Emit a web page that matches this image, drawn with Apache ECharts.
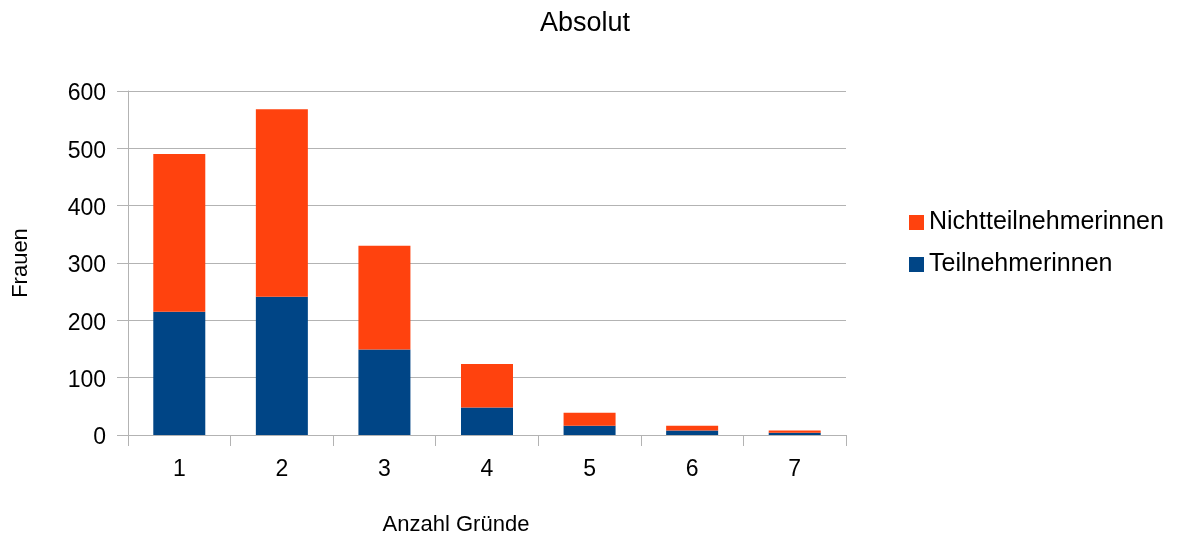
<!DOCTYPE html>
<html>
<head>
<meta charset="utf-8">
<script src="https://cdn.jsdelivr.net/npm/echarts@6/dist/echarts.min.js"></script>
<style>
  html, body { margin: 0; padding: 0; background: #ffffff; }
  #chart { width: 1183px; height: 538px; }
</style>
</head>
<body>
<div id="chart"></div>
<script>
// Number of reasons given (x axis)
const categories = ['1', '2', '3', '4', '5', '6', '7'];
// Women who took part
const teilnehmerinnen = [215, 241, 149, 48, 16, 8, 4];
// Women who did not take part
const nichtteilnehmerinnen = [275, 327, 181, 76, 23, 8, 4];
// Y axis range
const yMin = 0, yMax = 600, yStep = 100;

const FONT = '"Liberation Sans", Arial, sans-serif';
const GRID_GREY = '#b3b3b3';

const chart = echarts.init(document.getElementById('chart'), null, { renderer: 'canvas' });

chart.setOption({
  backgroundColor: '#ffffff',
  animation: false,
  title: {
    text: 'Absolut',
    left: 580,
    textAlign: 'center',
    top: 5,
    textStyle: { fontFamily: FONT, fontSize: 27, fontWeight: 'normal', color: '#000' }
  },
  legend: {
    orient: 'vertical',
    left: 904,
    top: 205,
    itemWidth: 15,
    itemHeight: 15,
    itemGap: 17,
    icon: 'rect',
    data: ['Nichtteilnehmerinnen', 'Teilnehmerinnen'],
    textStyle: { fontFamily: FONT, fontSize: 25, color: '#000' }
  },
  grid: {
    left: 128, right: 337, top: 91, bottom: 103,
    containLabel: false,
    outerBoundsMode: 'none'
  },
  xAxis: {
    type: 'category',
    data: categories,
    name: 'Anzahl Gründe',
    nameLocation: 'middle',
    nameGap: 79,
    nameTextStyle: { fontFamily: FONT, fontSize: 22, color: '#000', padding: [0, 62, 0, 0] },
    axisLine: { lineStyle: { color: GRID_GREY, width: 1 } },
    axisTick: { show: true, length: 11, lineStyle: { color: GRID_GREY } },
    axisLabel: { fontFamily: FONT, fontSize: 23, color: '#000', margin: 23 },
    splitLine: { show: false }
  },
  yAxis: {
    type: 'value',
    min: yMin,
    max: yMax,
    interval: yStep,
    name: 'Frauen',
    nameLocation: 'middle',
    nameGap: 96,
    nameTextStyle: { fontFamily: FONT, fontSize: 22, color: '#000' },
    axisLine: { show: true, lineStyle: { color: GRID_GREY, width: 1 } },
    axisTick: { show: true, length: 11, lineStyle: { color: GRID_GREY } },
    axisLabel: {
      fontFamily: FONT, fontSize: 23, color: '#000', margin: 22,
      verticalAlign: 'top', lineHeight: 6
    },
    splitLine: { show: true, lineStyle: { color: GRID_GREY, width: 1 } }
  },
  series: [
    {
      name: 'Teilnehmerinnen',
      type: 'bar',
      stack: 'total',
      barWidth: 52,
      itemStyle: { color: '#004586' },
      data: teilnehmerinnen
    },
    {
      name: 'Nichtteilnehmerinnen',
      type: 'bar',
      stack: 'total',
      barWidth: 52,
      itemStyle: { color: '#ff420e' },
      data: nichtteilnehmerinnen
    }
  ]
});
</script>
</body>
</html>
